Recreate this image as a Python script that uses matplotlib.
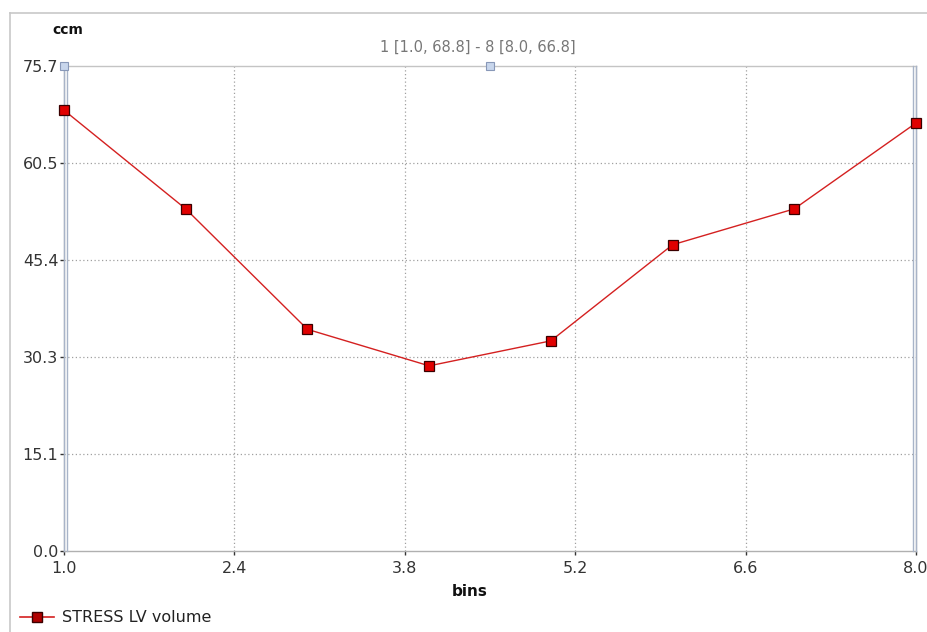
import matplotlib
matplotlib.use("Agg")
import matplotlib.pyplot as plt
from matplotlib.lines import Line2D

# Data
bins = [1, 2, 3, 4, 5, 6, 7, 8]
volume = [68.8, 53.4, 34.6, 28.9, 32.8, 47.8, 53.4, 66.8]
x_ticks = [1.0, 2.4, 3.8, 5.2, 6.6, 8.0]
y_ticks = [0.0, 15.1, 30.3, 45.4, 60.5, 75.7]
series_name = "STRESS LV volume"
range_label = "1 [1.0, 68.8] - 8 [8.0, 66.8]"

W, H = 928, 632
fig = plt.figure(figsize=(W / 100, H / 100), dpi=100)
fig.patch.set_facecolor("white")

L, R, T, B = 64, 916, 66, 551
ax = fig.add_axes([L / W, 1 - B / H, (R - L) / W, (B - T) / H])
ax.set_xlim(1.0, 8.0)
ax.set_ylim(0.0, 75.7)

# grid
for xv in x_ticks[1:-1]:
    ax.axvline(xv, color="#a0a0a0", lw=0.9, ls=(0, (1, 2)), zorder=1)
for yv in y_ticks[1:-1]:
    ax.axhline(yv, color="#a0a0a0", lw=0.9, ls=(0, (1, 2)), zorder=1)

ax.plot(bins, volume, color="#d42020", lw=1.0, marker="s", ms=6.5,
        mfc="#e00000", mec="#3a0000", mew=0.9, zorder=5, clip_on=False)

ax.set_xticks(x_ticks)
ax.set_xticklabels([f"{v:.1f}" for v in x_ticks])
ax.set_yticks(y_ticks)
ax.set_yticklabels([f"{v:.1f}" for v in y_ticks])
ax.tick_params(axis="both", length=3, width=1, color="#333333",
               labelsize=11.5, labelcolor="#333333", direction="out")
ax.tick_params(axis="x", pad=4)
ax.tick_params(axis="y", pad=1)

for side in ["left", "right", "top", "bottom"]:
    ax.spines[side].set_color("#c4c4c4")
    ax.spines[side].set_linewidth(1.0)
ax.spines["bottom"].set_color("#b0b0b0")

# range markers: double vertical lines at the ends
for xv, dx in [(1.0, 0.025), (8.0, -0.025)]:
    ax.axvline(xv, color="#a8b4c8", lw=1.0, zorder=3, clip_on=False)
    ax.axvline(xv + dx, color="#a8b4c8", lw=1.0, zorder=3, clip_on=False)
for xv in [1.0, 4.5]:
    ax.plot([xv], [75.7], marker="s", ms=6, mfc="#c8d6ec", mec="#8898b8",
            mew=0.8, clip_on=False, zorder=6)

fig.text(478 / W, 1 - 47 / H, range_label, ha="center", va="center",
         fontsize=10.5, color="#777777")

fig.text(52 / W, 1 - 30 / H, "ccm", fontsize=10, fontweight="bold",
         ha="left", va="center", color="#111111")
fig.text(470 / W, 1 - 592 / H, "bins", fontsize=11, fontweight="bold",
         ha="center", va="center", color="#111111")

# outer frame
fig.add_artist(Line2D([10 / W, 1], [1 - 13 / H, 1 - 13 / H], color="#c8c8c8", lw=1.2))
fig.add_artist(Line2D([10 / W, 10 / W], [0, 1 - 13 / H], color="#c8c8c8", lw=1.2))

# legend
fig.add_artist(Line2D([20 / W, 54 / W], [1 - 617 / H, 1 - 617 / H],
                      color="#d42020", lw=1.2))
fig.add_artist(Line2D([37 / W], [1 - 617 / H], marker="s", ms=7,
                      mfc="#b00000", mec="#3a0000", mew=1.0))
fig.text(62 / W, 1 - 617 / H, series_name, fontsize=11.5, ha="left",
         va="center", color="#222222")

fig.savefig("out.png", dpi=100)
